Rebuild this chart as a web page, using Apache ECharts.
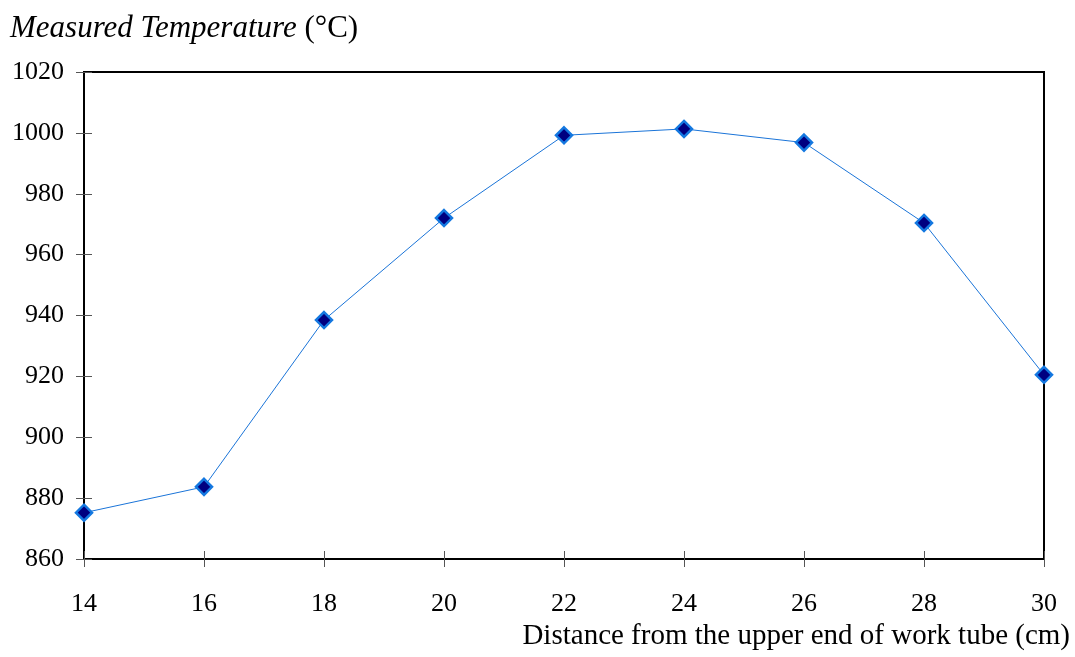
<!DOCTYPE html>
<html>
<head>
<meta charset="utf-8">
<script src="https://cdn.jsdelivr.net/npm/echarts@6/dist/echarts.min.js"></script>
<style>
  html, body { margin: 0; padding: 0; background: #fff; }
  #main { width: 1075px; height: 657px; }
</style>
</head>
<body>
<div id="main"></div>
<script>
// distance (cm) vs measured temperature (°C)
var distance = [14, 16, 18, 20, 22, 24, 26, 28, 30];
var temperature = [875.2, 883.7, 938.5, 972, 999.2, 1001.3, 996.8, 970.4, 920.5];
var yMin = 860, yMax = 1020, yStep = 20;
var xMin = 14, xMax = 30, xStep = 2;

var chart = echarts.init(document.getElementById('main'));
var font = 'Liberation Serif';

var points = [];
for (var i = 0; i < distance.length; i++) {
  points.push([distance[i], temperature[i]]);
}

var plain = function (v) { return String(v); };

var option = {
  animation: false,
  textStyle: { fontFamily: font },
  grid: {
    left: 84, right: 31, top: 72, bottom: 98,
    show: true,
    borderColor: '#000',
    borderWidth: 2
  },
  graphic: [
    {
      type: 'text', left: 10, top: 13,
      style: {
        text: '{i|Measured Temperature} {n|(°C)}',
        fontSize: 31, fontFamily: font,
        fill: '#000',
        rich: {
          i: { fontStyle: 'italic', fontSize: 31, fontFamily: font, fill: '#000' },
          n: { fontSize: 31, fontFamily: font, fill: '#000' }
        }
      }
    },
    {
      type: 'text', right: 5, top: 622,
      style: {
        text: 'Distance from the upper end of work tube (cm)',
        fontSize: 29, fontFamily: font,
        fill: '#000'
      }
    }
  ],
  xAxis: [
    {
      type: 'value', min: xMin, max: xMax, interval: xStep,
      axisLine: { lineStyle: { color: '#000', width: 2 } },
      axisTick: { show: true, length: 8, lineStyle: { color: '#555' } },
      axisLabel: { color: '#000', fontSize: 26, margin: 32, fontFamily: font, formatter: plain },
      splitLine: { show: false }
    },
    {
      type: 'value', min: xMin, max: xMax, interval: xStep, position: 'bottom',
      axisLine: { show: false },
      axisTick: { show: true, inside: true, length: 8, lineStyle: { color: '#555' } },
      axisLabel: { show: false },
      splitLine: { show: false }
    }
  ],
  yAxis: [
    {
      type: 'value', min: yMin, max: yMax, interval: yStep,
      axisLine: { show: true, lineStyle: { color: '#000', width: 2 } },
      axisTick: { show: true, length: 8, lineStyle: { color: '#555' } },
      axisLabel: { color: '#000', fontSize: 26, margin: 20, fontFamily: font, formatter: plain },
      splitLine: { show: false }
    },
    {
      type: 'value', min: yMin, max: yMax, interval: yStep, position: 'left',
      axisLine: { show: false },
      axisTick: { show: true, inside: true, length: 8, lineStyle: { color: '#555' } },
      axisLabel: { show: false },
      splitLine: { show: false }
    }
  ],
  series: [
    {
      type: 'line',
      data: points,
      symbol: 'diamond',
      symbolSize: 16,
      lineStyle: { color: '#1a74d8', width: 1 },
      itemStyle: { color: '#000080', borderColor: '#1478e0', borderWidth: 2.5 }
    }
  ]
};

chart.setOption(option);
</script>
</body>
</html>
